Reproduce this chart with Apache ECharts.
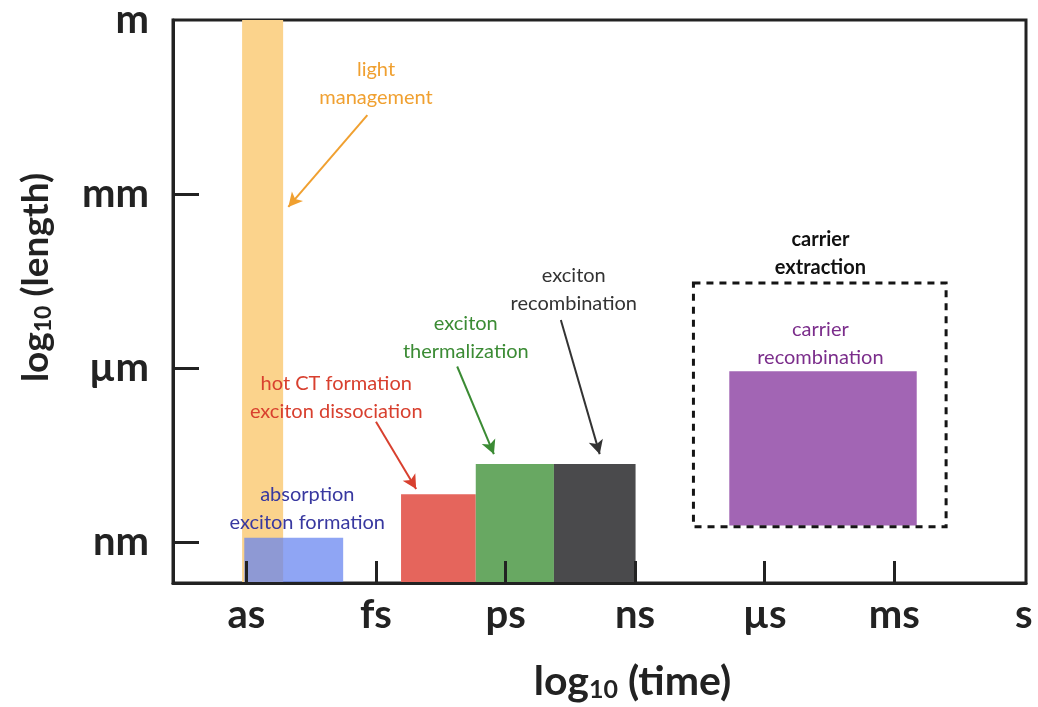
<!DOCTYPE html>
<html>
<head>
<meta charset="utf-8">
<script src="https://cdn.jsdelivr.net/npm/echarts@6/dist/echarts.min.js"></script>
<style>
  html, body { margin: 0; padding: 0; background: #fff; }
  #main { width: 1038px; height: 707px; }
</style>
</head>
<body>
<div id="main"></div>
<script>
// axes: log10 of seconds / log10 of metres
var timeTicks = [-18, -15, -12, -9, -6, -3, 0];
var timeLabels = ['as', 'fs', 'ps', 'ns', 'µs', 'ms', 's'];
var lengthTicks = [-9, -6, -3, 0];
var lengthLabels = ['nm', 'µm', 'mm', 'm'];

// processes, drawn as boxes in the time / length plane
var processes = ['light management', 'absorption', 'hot CT formation', 'exciton thermalization', 'exciton recombination', 'carrier recombination'];
var timeStart = [-18.1, -18.05, -14.42, -12.69, -10.88, -6.82];
var timeEnd = [-17.15, -15.76, -12.69, -10.88, -8.99, -2.48];
var lengthLow = [-9.7, -9.7, -9.7, -9.7, -9.7, -8.71];
var lengthHigh = [0, -8.92, -8.17, -7.65, -7.65, -6.05];
var boxColors = ['#fbd38c', 'rgba(100,130,240,0.72)', '#e5655c', '#68a862', '#4a4a4c', '#a265b4'];

// carrier extraction region (dashed)
var extraction = [-7.65, -1.80, -8.73, -4.53];

// labels
var noteText = ['light\nmanagement', 'hot CT formation\nexciton dissociation', 'absorption\nexciton formation',
  'exciton\nthermalization', 'exciton\nrecombination', 'carrier\nextraction', 'carrier\nrecombination'];
var noteTime = [-15.0, -15.92, -16.59, -12.92, -10.42, -4.71, -4.71];
var noteLength = [-1.09, -6.50, -8.42, -5.47, -4.64, -4.02, -5.57];
var noteColors = ['#f0a030', '#d8402f', '#3838a0', '#3b8b34', '#333333', '#111111', '#7b2d8b'];

// arrows: [fromTime, fromLength, toTime, toLength]
var arrows = [
  [-15.2, -1.64, -17.03, -3.22],
  [-15.0, -6.92, -14.07, -8.08],
  [-13.12, -5.97, -12.27, -7.48],
  [-10.72, -5.17, -9.82, -7.48]
];
var arrowColors = ['#f0a030', '#d8402f', '#3b8b34', '#333333'];

var boxData = processes.map(function (name, i) {
  return { name: name, value: [timeStart[i], timeEnd[i], lengthLow[i], lengthHigh[i]], itemStyle: { color: boxColors[i] } };
});

var noteData = noteText.map(function (t, i) {
  return { value: [noteTime[i], noteLength[i]], text: t, color: noteColors[i] };
});

var chartDom = document.getElementById('main');
var myChart = echarts.init(chartDom);

var option = {
  animation: false,
  grid: {
    left: 173, right: 12, top: 13, bottom: 124,
    show: true, borderColor: '#222', borderWidth: 3
  },
  xAxis: {
    type: 'value', min: -19.7, max: 0.05, z: 10,
    splitLine: { show: false },
    axisLine: { show: true, onZero: false, lineStyle: { color: '#222', width: 3 } },
    axisTick: { show: true, inside: true, length: 22, customValues: timeTicks.slice(0, 6), lineStyle: { color: '#222', width: 3 } },
    axisLabel: {
      customValues: timeTicks, showMaxLabel: true, showMinLabel: true,
      margin: 12, color: '#222', fontSize: 40, fontWeight: 'bold', fontFamily: 'Lato',
      formatter: function (v) { return timeLabels[timeTicks.indexOf(Math.round(v))]; }
    },
    name: '{a|log}{b|10}{a| (time)}',
    nameLocation: 'middle', nameGap: 78,
    nameTextStyle: {
      padding: [0, 0, 0, 66],
      rich: {
        a: { fontSize: 41, fontWeight: 'bold', fontFamily: 'Lato', color: '#222' },
        b: { fontSize: 25, fontWeight: 'bold', fontFamily: 'Lato', color: '#222', padding: [16, 0, 0, 0] }
      }
    }
  },
  yAxis: {
    type: 'value', min: -9.7, max: 0, z: 10,
    splitLine: { show: false },
    axisLine: { show: true, onZero: false, lineStyle: { color: '#222', width: 3 } },
    axisTick: { show: true, inside: true, length: 26, customValues: lengthTicks.slice(0, 3), lineStyle: { color: '#222', width: 3 } },
    axisLabel: {
      customValues: lengthTicks, showMaxLabel: true, showMinLabel: true,
      margin: 24, color: '#222', fontSize: 40, fontWeight: 'bold', fontFamily: 'Lato',
      formatter: function (v) { return lengthLabels[lengthTicks.indexOf(Math.round(v))]; }
    },
    name: '{a|log}{b|10}{a| (length)}',
    nameLocation: 'middle', nameGap: 118, nameRotate: 90,
    nameTextStyle: {
      padding: [0, 0, 0, 48],
      rich: {
        a: { fontSize: 37, fontWeight: 'bold', fontFamily: 'Lato', color: '#222' },
        b: { fontSize: 23, fontWeight: 'bold', fontFamily: 'Lato', color: '#222', padding: [14, 0, 0, 0] }
      }
    }
  },
  series: [
    {
      name: 'processes',
      type: 'custom',
      data: boxData,
      encode: { x: [0, 1], y: [2, 3] },
      renderItem: function (params, api) {
        var p0 = api.coord([api.value(0), api.value(3)]);
        var p1 = api.coord([api.value(1), api.value(2)]);
        return {
          type: 'rect',
          shape: { x: p0[0], y: p0[1], width: p1[0] - p0[0], height: p1[1] - p0[1] },
          style: { fill: api.visual('color') }
        };
      },
      z: 1
    },
    {
      name: 'carrier extraction',
      type: 'custom',
      data: [extraction],
      encode: { x: [0, 1], y: [2, 3] },
      renderItem: function (params, api) {
        var p0 = api.coord([api.value(0), api.value(3)]);
        var p1 = api.coord([api.value(1), api.value(2)]);
        return {
          type: 'rect',
          shape: { x: p0[0], y: p0[1], width: p1[0] - p0[0], height: p1[1] - p0[1] },
          style: { fill: 'none', stroke: '#151515', lineWidth: 3, lineDash: [7, 6] }
        };
      },
      z: 2
    },
    {
      name: 'notes',
      type: 'custom',
      data: noteData,
      renderItem: function (params, api) {
        var p = api.coord([api.value(0), api.value(1)]);
        var d = noteData[params.dataIndex];
        return {
          type: 'text',
          x: p[0], y: p[1],
          style: {
            text: d.text, fill: d.color, align: 'center', verticalAlign: 'middle',
            font: (d.text.indexOf('extraction') >= 0 ? 'bold ' : '') + '20px Lato', lineHeight: 28
          }
        };
      },
      z: 5
    },
    {
      name: 'arrows',
      type: 'line',
      data: [],
      markLine: {
        silent: true,
        symbol: ['none', 'arrow'],
        symbolSize: [11, 14],
        label: { show: false },
        data: arrows.map(function (a, i) {
          return [
            { coord: [a[0], a[1]], lineStyle: { color: arrowColors[i], width: 2, type: 'solid' } },
            { coord: [a[2], a[3]] }
          ];
        })
      },
      z: 4
    }
  ]
};

option && myChart.setOption(option);
</script>
</body>
</html>
